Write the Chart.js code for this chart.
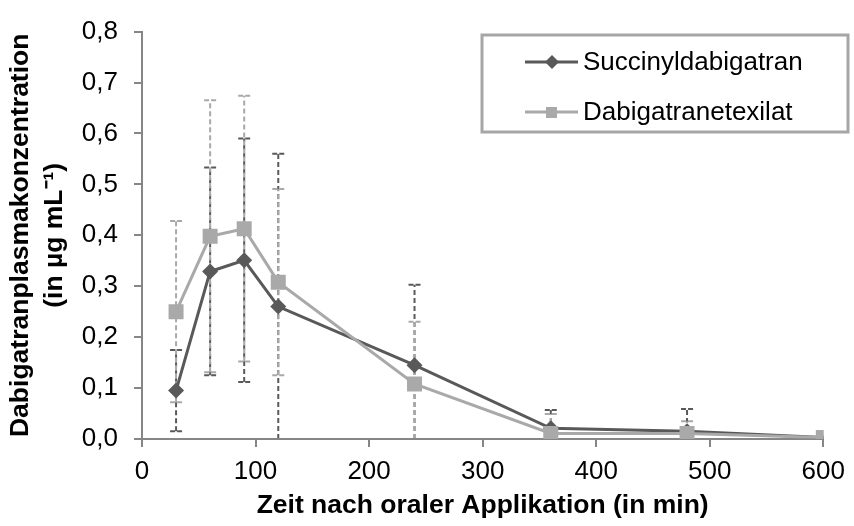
<!DOCTYPE html>
<html>
<head>
<meta charset="utf-8">
<script src="https://cdn.jsdelivr.net/npm/chart.js@4.4.1/dist/chart.umd.min.js"></script>
<style>
  html, body { margin: 0; padding: 0; background: #ffffff; }
  #wrap { position: relative; width: 854px; height: 526px; }
</style>
</head>
<body>
<div id="wrap"><canvas id="c" width="854" height="526"></canvas></div>
<script>
// Sampling times (min) after oral dosing
const times = [30, 60, 90, 120, 240, 360, 480, 600];

// Mean plasma concentrations (µg/mL)
const succinylMean = [0.095, 0.329, 0.351, 0.260, 0.145, 0.021, 0.015, 0.003];
const etexilatMean = [0.250, 0.398, 0.413, 0.308, 0.108, 0.011, 0.011, 0.003];

// Standard deviations (symmetric error bars)
const succinylSD = [0.080, 0.204, 0.239, 0.300, 0.158, 0.036, 0.044, 0.004];
const etexilatSD = [0.178, 0.267, 0.261, 0.183, 0.122, 0.038, 0.024, 0.003];

const seriesNames = ['Succinyldabigatran', 'Dabigatranetexilat'];
const xTitle = 'Zeit nach oraler Applikation (in min)';
const yTitle = ['Dabigatranplasmakonzentration', '(in µg mL⁻¹)'];

const DARK = '#595959';
const LIGHT = '#a9a9a9';
const AXIS = '#868686';
const FONT = "'Liberation Sans', Arial, sans-serif";

const toPoints = (xs, ys) => xs.map((t, i) => ({ x: t, y: ys[i] }));

// Dashed vertical error bars with short caps, drawn beneath the series
const errorBars = {
  id: 'errorBars',
  beforeDatasetsDraw(chart) {
    const { ctx, chartArea, scales } = chart;
    const xs = scales.x, ys = scales.y;
    ctx.save();
    ctx.beginPath();
    ctx.rect(chartArea.left, chartArea.top - 2, chartArea.right - chartArea.left, chartArea.bottom - chartArea.top + 1);
    ctx.clip();
    [0, 1].forEach(di => {
      const ds = chart.data.datasets[di];
      const sd = ds.errors;
      ctx.strokeStyle = ds.borderColor;
      ctx.lineWidth = 2;
      ds.data.forEach((p, i) => {
        const px = xs.getPixelForValue(p.x);
        const lo = p.y - sd[i], hi = p.y + sd[i];
        const yLo = ys.getPixelForValue(Math.max(lo, 0));
        const yHi = ys.getPixelForValue(hi);
        ctx.setLineDash([5, 3]);
        ctx.beginPath();
        ctx.moveTo(px, yLo);
        ctx.lineTo(px, yHi);
        ctx.stroke();
        ctx.setLineDash([5, 2]);
        const caps = [hi];
        if (lo > 0) caps.push(lo);
        caps.forEach(v => {
          const cy = ys.getPixelForValue(v);
          ctx.beginPath();
          ctx.moveTo(px - 6, cy);
          ctx.lineTo(px + 6, cy);
          ctx.stroke();
        });
      });
    });
    ctx.restore();
  }
};

// Boxed legend placed in the upper right of the plot
const boxLegend = {
  id: 'boxLegend',
  afterDraw(chart) {
    const { ctx } = chart;
    const bx = 482, by = 35, bw = 366, bh = 97;
    ctx.save();
    ctx.fillStyle = '#ffffff';
    ctx.fillRect(bx, by, bw, bh);
    ctx.strokeStyle = '#a6a6a6';
    ctx.lineWidth = 3;
    ctx.strokeRect(bx, by, bw, bh);
    const rows = [62, 112];
    chart.data.datasets.forEach((ds, i) => {
      const y = rows[i];
      ctx.strokeStyle = ds.borderColor;
      ctx.lineWidth = 3;
      ctx.beginPath();
      ctx.moveTo(525, y);
      ctx.lineTo(578, y);
      ctx.stroke();
      ctx.fillStyle = ds.pointBackgroundColor;
      if (ds.pointStyle === 'rectRot') {
        ctx.beginPath();
        ctx.moveTo(552, y - 7);
        ctx.lineTo(559, y);
        ctx.lineTo(552, y + 7);
        ctx.lineTo(545, y);
        ctx.closePath();
        ctx.fill();
      } else {
        ctx.fillRect(546, y - 5, 11, 11);
      }
      ctx.fillStyle = '#000000';
      ctx.font = '26px ' + FONT;
      ctx.textBaseline = 'middle';
      ctx.textAlign = 'left';
      ctx.fillText(ds.label, 583, y + 1);
    });
    ctx.restore();
  }
};

new Chart(document.getElementById('c'), {
  type: 'line',
  data: {
    datasets: [
      {
        label: seriesNames[0],
        data: toPoints(times, succinylMean),
        errors: succinylSD,
        borderColor: DARK,
        backgroundColor: DARK,
        pointBackgroundColor: DARK,
        pointBorderWidth: 0,
        borderWidth: 3,
        pointStyle: 'rectRot',
        pointRadius: 8,
        tension: 0,
        order: 1
      },
      {
        label: seriesNames[1],
        data: toPoints(times, etexilatMean),
        errors: etexilatSD,
        borderColor: LIGHT,
        backgroundColor: LIGHT,
        pointBackgroundColor: LIGHT,
        pointBorderWidth: 0,
        borderWidth: 3,
        pointStyle: 'rect',
        pointRadius: 10.6,
        tension: 0,
        order: 0
      }
    ]
  },
  options: {
    responsive: false,
    animation: false,
    events: [],
    layout: { padding: { top: 19, right: 26, left: 0, bottom: 0 } },
    plugins: {
      legend: { display: false },
      tooltip: { enabled: false }
    },
    scales: {
      x: {
        type: 'linear',
        min: 0,
        max: 600,
        ticks: {
          stepSize: 100,
          color: '#000000',
          font: { family: FONT, size: 26 },
          padding: 9,
          maxRotation: 0
        },
        grid: { display: true, drawOnChartArea: false, color: AXIS, tickLength: 8, lineWidth: 2 },
        border: { display: true, color: AXIS, width: 2 },
        title: {
          display: true,
          text: xTitle,
          color: '#000000',
          font: { family: FONT, size: 26.5, weight: 'bold', lineHeight: 1.2 },
          padding: { top: 0, bottom: 4 }
        },
        afterFit(s) { s.height = 87; }
      },
      y: {
        type: 'linear',
        min: 0,
        max: 0.8,
        ticks: {
          stepSize: 0.1,
          color: '#000000',
          font: { family: FONT, size: 26 },
          padding: 16,
          callback: v => v.toFixed(1).replace('.', ',')
        },
        grid: { display: true, drawOnChartArea: false, color: AXIS, tickLength: 8, lineWidth: 2 },
        border: { display: true, color: AXIS, width: 2 },
        title: {
          display: true,
          text: yTitle,
          color: '#000000',
          font: { family: FONT, size: 26.5, weight: 'bold', lineHeight: 1.3 },
          padding: { top: 3, bottom: 0 }
        },
        afterFit(s) { s.width = 142; }
      }
    }
  },
  plugins: [errorBars, boxLegend]
});
</script>
</body>
</html>
